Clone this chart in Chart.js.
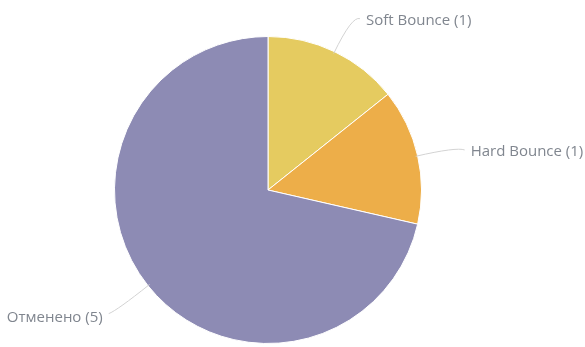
<!DOCTYPE html>
<html>
<head>
<meta charset="utf-8">
<script src="https://cdn.jsdelivr.net/npm/chart.js@4"></script>
<style>
html,body{margin:0;padding:0;background:#fff;}
#wrap{width:585px;height:347px;position:relative;}
</style>
</head>
<body>
<div id="wrap"><canvas id="c" width="585" height="347"></canvas></div>
<script>
const categories = ["Soft Bounce", "Hard Bounce", "Отменено"];
const values = [1, 1, 5];
const colors = ["#E5CB60", "#EDAE49", "#8D8BB4"];

const labelPlugin = {
  id: 'pieLabels',
  afterDatasetsDraw(chart) {
    const ctx = chart.ctx;
    const meta = chart.getDatasetMeta(0);
    ctx.save();
    ctx.font = '15px "Open Sans", sans-serif';
    ctx.textBaseline = 'middle';
    meta.data.forEach((arc, i) => {
      const p = arc.getProps(['x','y','startAngle','endAngle','outerRadius'], true);
      const mid = (p.startAngle + p.endAngle) / 2;
      const cos = Math.cos(mid), sin = Math.sin(mid);
      const r = p.outerRadius;
      const x0 = p.x + (r - 2) * cos, y0 = p.y + (r - 2) * sin;
      const x1 = p.x + (r + 40) * cos, y1 = p.y + (r + 40) * sin;
      const right = cos >= 0;
      const x2 = x1 + (right ? 8 : -8), y2 = y1 + 3;
      ctx.strokeStyle = '#d3d3d3';
      ctx.lineWidth = 1;
      ctx.beginPath();
      ctx.moveTo(x0, y0);
      ctx.quadraticCurveTo(x1, y1, x2, y2);
      ctx.stroke();
      ctx.fillStyle = '#80868f';
      ctx.textAlign = right ? 'left' : 'right';
      const text = categories[i] + ' (' + values[i] + ')';
      ctx.fillText(text, x2 + (right ? 6 : -6), y2 + (right ? 2 : 4));
    });
    ctx.restore();
  }
};

new Chart(document.getElementById('c'), {
  type: 'pie',
  data: {
    labels: categories,
    datasets: [{
      data: values,
      backgroundColor: colors,
      borderColor: '#ffffff',
      borderWidth: 1
    }]
  },
  options: {
    responsive: false,
    animation: false,
    layout: { padding: { top: 36, bottom: 3, left: 0, right: 49 } },
    plugins: { legend: { display: false }, tooltip: { enabled: false } }
  },
  plugins: [labelPlugin]
});
</script>
</body>
</html>
